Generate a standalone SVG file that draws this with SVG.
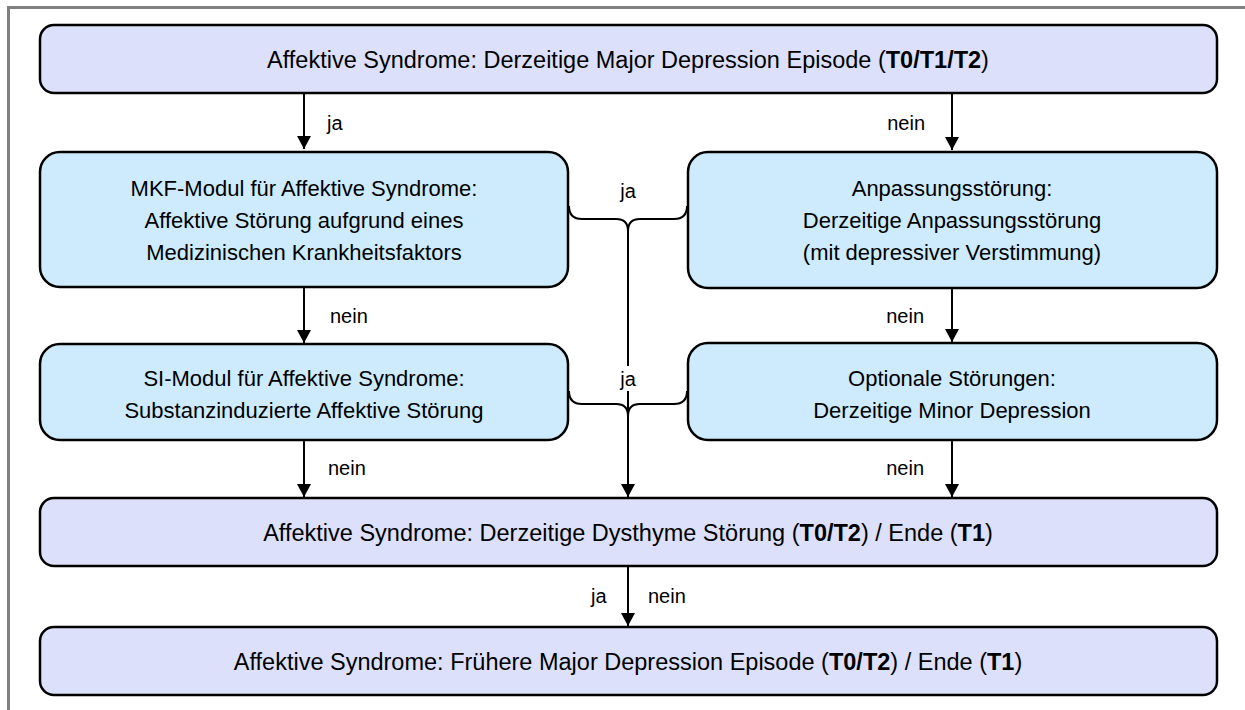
<svg xmlns="http://www.w3.org/2000/svg" width="1245" height="710" viewBox="0 0 1245 710">
<style>
text{font-family:"Liberation Sans",Arial,sans-serif;font-size:20px;fill:#000}
.t{font-size:22px}
.h{font-size:23.5px}
.c{text-anchor:middle}
.e{text-anchor:end}
.wide{fill:#dde0fa;stroke:#000;stroke-width:2.5}
.mid{fill:#cdebfd;stroke:#000;stroke-width:2.5}
.ln{fill:none;stroke:#000;stroke-width:2}
</style>
<defs>
<marker id="ah" markerWidth="15" markerHeight="14" refX="14" refY="7.5" orient="auto" markerUnits="userSpaceOnUse" viewBox="0 0 14 15">
<path d="M0,0 L14,7.5 L0,15 Z" fill="#000"/>
</marker>
</defs>
<rect width="1245" height="710" fill="#fff"/>
<path d="M8.5,710 L8.5,7.5 L1245,7.5" fill="none" stroke="#808080" stroke-width="3"/>
<g id="connectors">
<path class="ln" d="M304,94 L304,149" marker-end="url(#ah)"/>
<path class="ln" d="M952,94 L952,150" marker-end="url(#ah)"/>
<path class="ln" d="M304,288 L304,343" marker-end="url(#ah)"/>
<path class="ln" d="M952,289 L952,342" marker-end="url(#ah)"/>
<path class="ln" d="M304,441 L304,497" marker-end="url(#ah)"/>
<path class="ln" d="M952,441 L952,497" marker-end="url(#ah)"/>
<path class="ln" d="M628,567 L628,626" marker-end="url(#ah)"/>
<path class="ln" d="M569,206 Q569,219 582,219 L616,219 Q628,219 628,231 M687,206 Q687,219 674,219 L640,219 Q628,219 628,231 L628,497" marker-end="url(#ah)"/>
<path class="ln" d="M569,391 Q569,404 582,404 L616,404 Q628,404 628,416 M687,391 Q687,404 674,404 L640,404 Q628,404 628,416"/>
<rect x="616" y="366" width="24" height="25" fill="#fff"/>
<text class="c" x="628" y="198">ja</text>
<text class="c" x="628" y="386">ja</text>
<text x="327" y="130">ja</text>
<text class="e" x="925" y="130">nein</text>
<text x="330" y="323">nein</text>
<text class="e" x="924" y="323">nein</text>
<text x="328" y="475">nein</text>
<text class="e" x="924" y="475">nein</text>
<text x="591" y="603">ja</text>
<text x="648" y="603">nein</text>
</g>
<g id="n1">
<rect class="wide" x="40" y="25" width="1177" height="68" rx="14"/>
<text class="h c" x="628" y="68">Affektive Syndrome: Derzeitige Major Depression Episode (<tspan font-weight="bold">T0/T1/T2</tspan>)</text>
</g>
<g id="n2">
<rect class="mid" x="40" y="152" width="528" height="135" rx="20"/>
<text class="t c" x="304" y="196">MKF-Modul für Affektive Syndrome:</text>
<text class="t c" x="304" y="228">Affektive Störung aufgrund eines</text>
<text class="t c" x="304" y="260">Medizinischen Krankheitsfaktors</text>
</g>
<g id="n3">
<rect class="mid" x="688" y="152" width="529" height="136" rx="20"/>
<text class="t c" x="952" y="196">Anpassungsstörung:</text>
<text class="t c" x="952" y="228">Derzeitige Anpassungsstörung</text>
<text class="t c" x="952" y="260">(mit depressiver Verstimmung)</text>
</g>
<g id="n4">
<rect class="mid" x="40" y="344" width="528" height="96" rx="20"/>
<text class="t c" x="304" y="386">SI-Modul für Affektive Syndrome:</text>
<text class="t c" x="304" y="418">Substanzinduzierte Affektive Störung</text>
</g>
<g id="n5">
<rect class="mid" x="688" y="343" width="529" height="97" rx="20"/>
<text class="t c" x="952" y="386">Optionale Störungen:</text>
<text class="t c" x="952" y="418">Derzeitige Minor Depression</text>
</g>
<g id="n6">
<rect class="wide" x="40" y="498" width="1177" height="68" rx="14"/>
<text class="h c" x="628" y="541">Affektive Syndrome: Derzeitige Dysthyme Störung (<tspan font-weight="bold">T0/T2</tspan>) / Ende (<tspan font-weight="bold">T1</tspan>)</text>
</g>
<g id="n7">
<rect class="wide" x="40" y="627" width="1177" height="68" rx="14"/>
<text class="h c" x="628" y="670">Affektive Syndrome: Frühere Major Depression Episode (<tspan font-weight="bold">T0/T2</tspan>) / Ende (<tspan font-weight="bold">T1</tspan>)</text>
</g>
</svg>
